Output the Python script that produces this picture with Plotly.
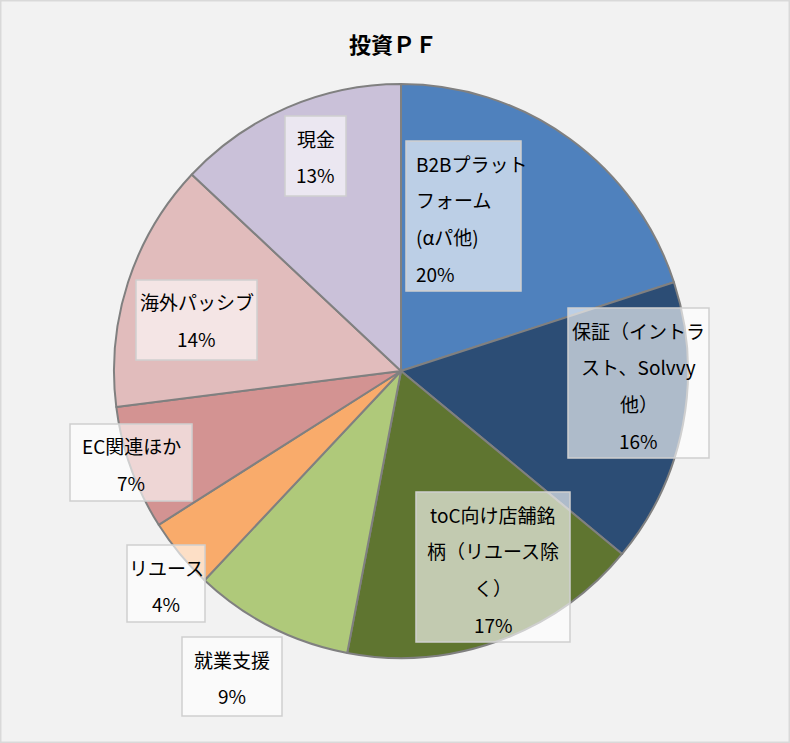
import plotly.graph_objects as go

# ---- data ----
categories = ["B2Bプラットフォーム(αパ他)", "保証（イントラスト、Solvvy他）",
              "toC向け店舗銘柄（リユース除く）", "就業支援", "リユース",
              "EC関連ほか", "海外パッシブ", "現金"]
values = [20, 16, 17, 9, 4, 7, 14, 13]
label_lines = [
    ["B2Bプラット", "フォーム", "(αパ他)"],
    ["保証（イントラ", "スト、Solvvy", "他）"],
    ["toC向け店舗銘", "柄（リユース除", "く）"],
    ["就業支援"],
    ["リユース"],
    ["EC関連ほか"],
    ["海外パッシブ"],
    ["現金"],
]
title_text = "投資ＰＦ"

# ---- styling / layout ----
colors = ["#4F81BD", "#2C4D75", "#5F7530", "#AFC97A", "#F9AB6B",
          "#D39392", "#E1BCBC", "#CAC1D9"]
W, H = 790, 743
# label boxes in pixels: (left, top, right, bottom, align)
boxes = [
    (406, 141, 521, 291, "left"),
    (568, 308, 709, 458, "center"),
    (416, 492, 570, 642, "center"),
    (182, 637, 282, 716, "center"),
    (127, 545, 205, 622, "center"),
    (70, 424, 192, 501, "center"),
    (136, 280, 257, 360, "center"),
    (285, 116, 346, 196, "center"),
]
cx, cy, r = 401, 371, 287
FONT = "Noto Sans CJK JP"


def px(x):
    return x / W


def py(y):
    return 1 - y / H


fig = go.Figure(go.Pie(
    labels=categories,
    values=values,
    sort=False,
    direction="clockwise",
    rotation=0,
    textinfo="none",
    hoverinfo="label+percent",
    marker=dict(colors=colors, line=dict(color="#808080", width=2)),
    domain=dict(x=[px(cx - r), px(cx + r)], y=[py(cy + r), py(cy - r)]),
    showlegend=False,
))

total = sum(values)
shapes = [dict(type="rect", xref="paper", yref="paper", x0=0, y0=0, x1=1, y1=1,
               line=dict(color="#D9D9D9", width=3), fillcolor="rgba(0,0,0,0)",
               layer="below")]
annotations = []
line_gap = 36.7
for lines, v, (l, t, rr, b, align) in zip(label_lines, values, boxes):
    shapes.append(dict(type="rect", xref="paper", yref="paper",
                       x0=px(l), x1=px(rr), y0=py(b), y1=py(t),
                       fillcolor="rgba(255,255,255,0.62)",
                       line=dict(color="#CFCFCF", width=1.5), layer="above"))
    all_lines = lines + [f"{round(v / total * 100)}%"]
    for i, s in enumerate(all_lines):
        yy = t + 22 + i * line_gap
        if align == "left":
            ax, anchor = px(l + 8), "left"
        else:
            ax, anchor = px((l + rr) / 2), "center"
        annotations.append(dict(xref="paper", yref="paper", x=ax, y=py(yy),
                                xanchor=anchor, yanchor="middle", text=s,
                                showarrow=False,
                                font=dict(family=FONT, size=19, color="#000000")))

annotations.append(dict(xref="paper", yref="paper", x=px(393), y=py(43),
                        xanchor="center", yanchor="middle",
                        text=f"<b>{title_text}</b>", showarrow=False,
                        font=dict(family=FONT, size=22, color="#000000")))

fig.update_layout(
    width=W, height=H,
    margin=dict(l=0, r=0, t=0, b=0),
    paper_bgcolor="#F2F2F2",
    plot_bgcolor="#F2F2F2",
    shapes=shapes,
    annotations=annotations,
)

fig.write_html("out.html",
               config={"displayModeBar": False},
               post_script="document.body.style.margin='0';document.body.style.overflow='hidden';")
